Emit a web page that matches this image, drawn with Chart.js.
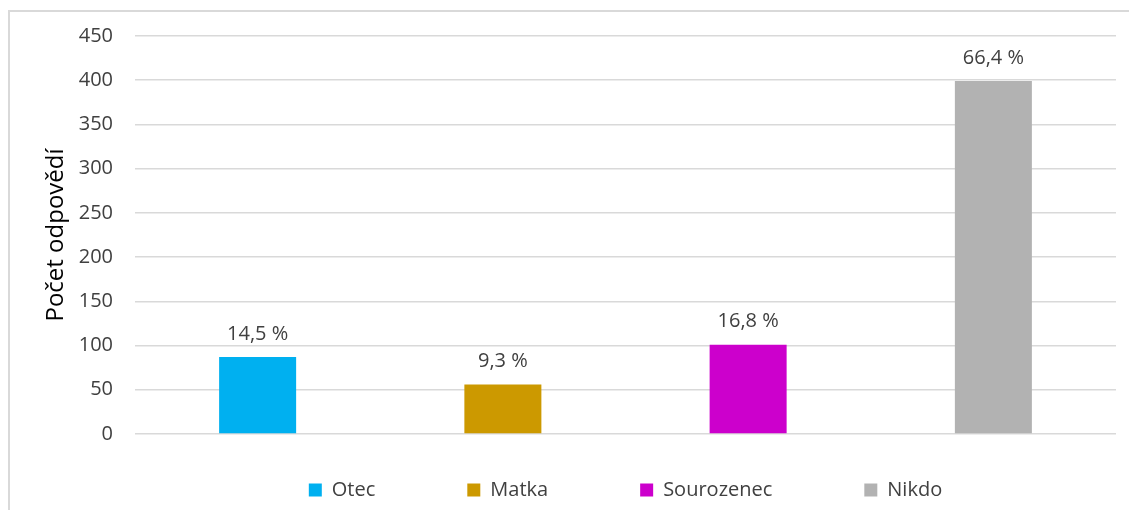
<!DOCTYPE html>
<html lang="cs">
<head>
    <meta charset="UTF-8">
    <title>Počet odpovědí</title>
    <script src="https://cdn.jsdelivr.net/npm/chart.js@4.4.1/dist/chart.umd.min.js"></script>
    <style>
        html, body {
            margin: 0;
            padding: 0;
            background: #ffffff;
            overflow: hidden;
        }
        .frame {
            position: absolute;
            left: 8px;
            top: 10px;
            width: 1300px;
            height: 700px;
            border-left: 2px solid #d9d9d9;
            border-top: 2px solid #d9d9d9;
        }
        .chart-box {
            position: absolute;
            left: 0;
            top: 0;
            width: 1129px;
            height: 510px;
        }
    </style>
</head>
<body>
    <div class="frame"></div>
    <div class="chart-box">
        <canvas id="myChart"></canvas>
    </div>

    <script>
        // Data
        const categories = ['Otec', 'Matka', 'Sourozenec', 'Nikdo'];
        const counts = [87, 56, 101, 399];
        const percentLabels = ['14,5 %', '9,3 %', '16,8 %', '66,4 %'];
        const colors = ['#00b0f0', '#cc9900', '#cc00cc', '#b2b2b2'];
        const yTicks = [0, 50, 100, 150, 200, 250, 300, 350, 400, 450];

        const textColor = '#404040';
        const fontFamily = '"Open Sans", "Noto Sans", sans-serif';

        // každá kategorie je samostatná datová řada (kvůli legendě)
        const datasets = categories.map((name, i) => ({
            label: name,
            data: categories.map((_, j) => (j === i ? counts[i] : null)),
            backgroundColor: colors[i],
            borderWidth: 0,
            percent: percentLabels[i]
        }));

        // popisky s procenty nad sloupci
        const valueLabels = {
            id: 'valueLabels',
            afterDatasetsDraw(chart) {
                const ctx = chart.ctx;
                ctx.save();
                ctx.font = '20px ' + fontFamily;
                ctx.fillStyle = textColor;
                ctx.textAlign = 'center';
                ctx.textBaseline = 'middle';
                chart.data.datasets.forEach((ds, i) => {
                    const meta = chart.getDatasetMeta(i);
                    meta.data.forEach((bar, j) => {
                        if (ds.data[j] === null) return;
                        ctx.fillText(ds.percent, bar.x, bar.y - 23);
                    });
                });
                ctx.restore();
            }
        };

        const ctx = document.getElementById('myChart').getContext('2d');
        const myChart = new Chart(ctx, {
            type: 'bar',
            data: {
                labels: categories,
                datasets: datasets
            },
            plugins: [valueLabels],
            options: {
                responsive: true,
                maintainAspectRatio: false,
                animation: false,
                skipNull: true,
                categoryPercentage: 1,
                barPercentage: 0.314,
                layout: {
                    padding: { top: 36, right: 13, bottom: 0, left: 0 }
                },
                plugins: {
                    tooltip: { enabled: false },
                    legend: {
                        position: 'bottom',
                        fullSize: false,
                        labels: {
                            boxWidth: 13,
                            boxHeight: 13,
                            padding: 12,
                            color: textColor,
                            font: { family: fontFamily, size: 20 },
                            generateLabels(chart) {
                                const n = chart.data.datasets.length;
                                return chart.data.datasets.map((ds, i) => ({
                                    text: i < n - 1 ? ds.label + '\u2003\u2003\u2003\u2003' : ds.label,
                                    fillStyle: ds.backgroundColor,
                                    strokeStyle: ds.backgroundColor,
                                    lineWidth: 0,
                                    fontColor: textColor,
                                    datasetIndex: i
                                }));
                            }
                        }
                    }
                },
                scales: {
                    x: {
                        grid: { display: false },
                        border: { display: false },
                        ticks: { display: false },
                        afterFit(scale) { scale.height = 34; }
                    },
                    y: {
                        min: 0,
                        max: 450,
                        afterBuildTicks(scale) {
                            scale.ticks = yTicks.map(v => ({ value: v }));
                        },
                        afterFit(scale) { scale.width = 135; },
                        grid: {
                            color: '#d9d9d9',
                            lineWidth: 1.5,
                            drawTicks: false
                        },
                        border: { display: false },
                        ticks: {
                            padding: 22,
                            color: textColor,
                            font: { family: fontFamily, size: 20 }
                        },
                        title: {
                            display: true,
                            text: 'Počet odpovědí',
                            color: '#000000',
                            font: { family: fontFamily, size: 24 },
                            padding: { top: 42, bottom: 0 }
                        }
                    }
                }
            }
        });
    </script>
</body>
</html>
